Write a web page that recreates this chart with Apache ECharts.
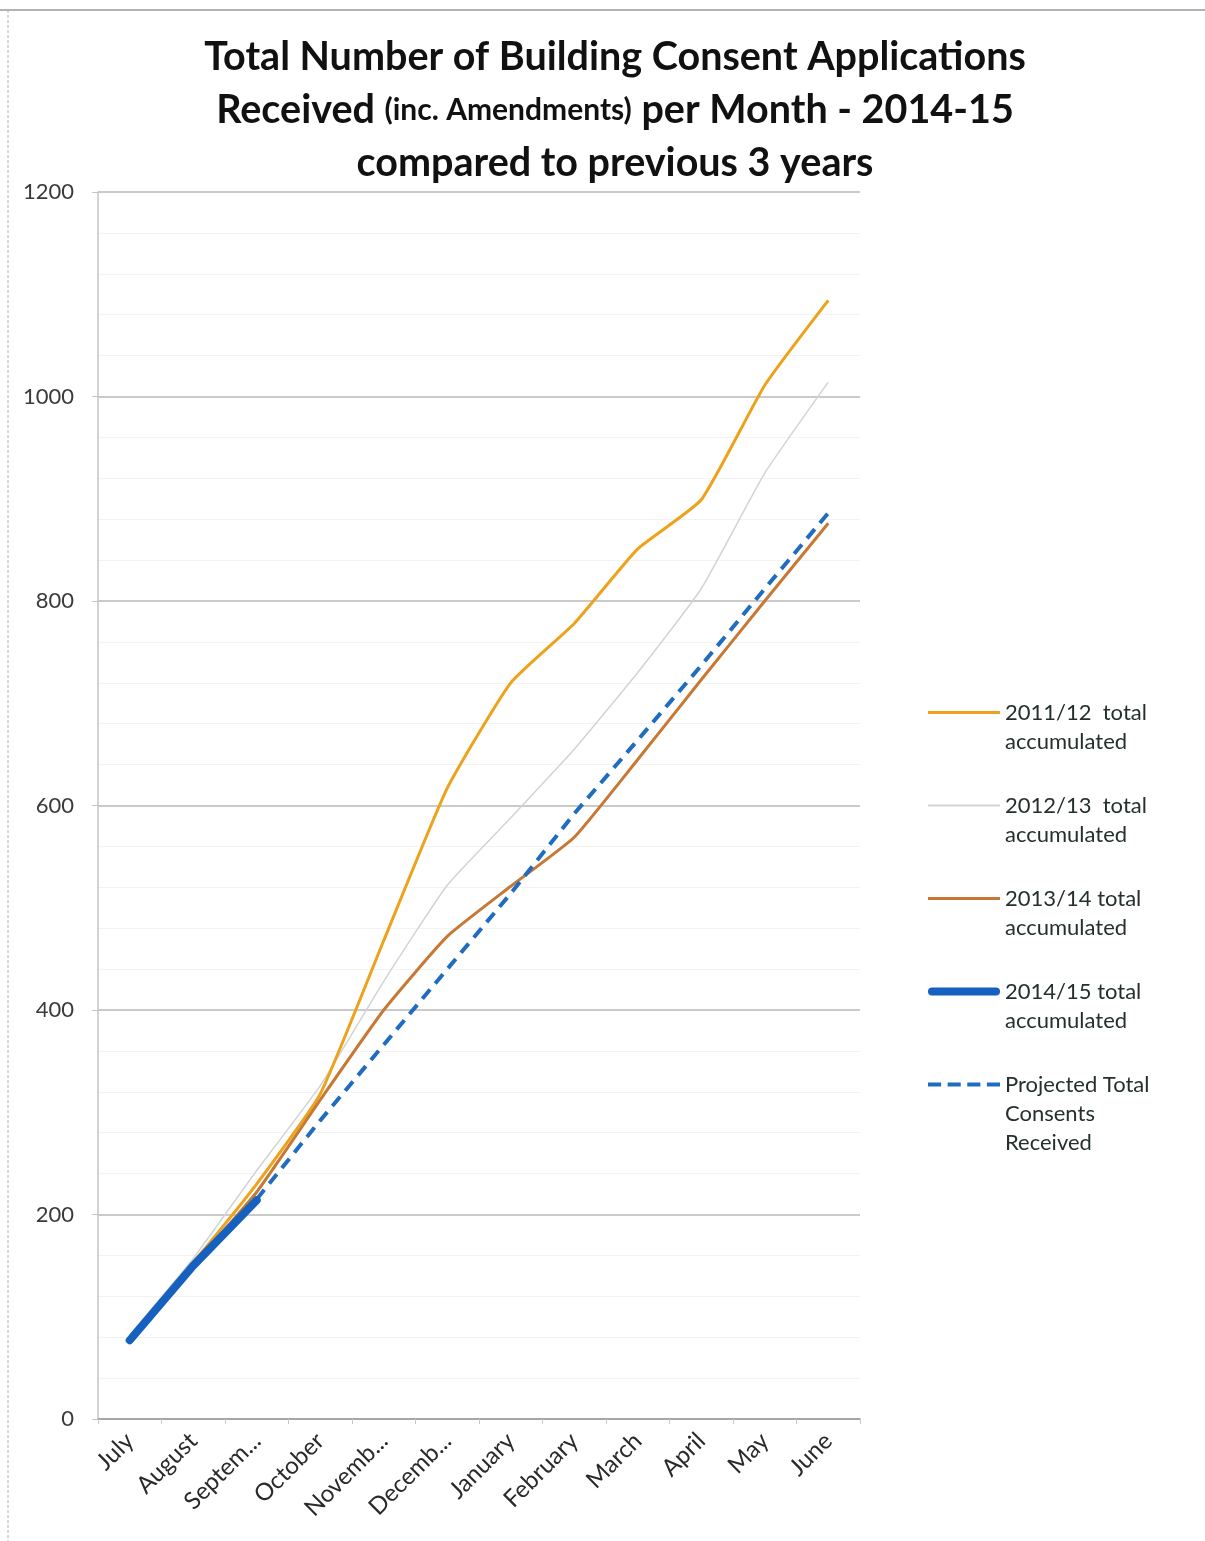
<!DOCTYPE html>
<html>
<head>
<meta charset="utf-8">
<script src="https://cdn.jsdelivr.net/npm/echarts@6/dist/echarts.min.js"></script>
<style>
  html, body { margin: 0; padding: 0; background: #ffffff; }
  #chart { width: 1205px; height: 1541px; }
</style>
</head>
<body>
<div id="chart"></div>
<script>
// Months of the financial year (July to June)
const months = ['July', 'August', 'Septem...', 'October', 'Novemb...', 'Decemb...',
  'January', 'February', 'March', 'April', 'May', 'June'];

// Accumulated building consent applications per month
const total2011 = [80, 153, 230, 318, 468, 617, 720, 778, 851, 899, 1011, 1094];
const total2012 = [82, 157, 243, 326, 428, 522, 588, 655, 730, 812, 925, 1014];
const total2013 = [80, 150, 222, 312, 400, 472, 521, 569, 645, 723, 800, 876];
const total2014 = [77, 150, 214, null, null, null, null, null, null, null, null, null];
const projected = [null, null, 215, 292, 366, 440, 514, 592, 664, 737, 812, 886];

// Value axis ticks
const yMin = 0;
const yMax = 1200;
const yStep = 200;

const seriesNames = [
  '2011/12  total\naccumulated',
  '2012/13  total\naccumulated',
  '2013/14 total\naccumulated',
  '2014/15 total\naccumulated',
  'Projected Total\nConsents\nReceived'
];

const colors = ['#eea21b', '#d3d3d3', '#c67834', '#1660c0', '#1f6cc0'];

// Legend keys drawn as plain strokes (solid, thin, thick, dashed)
const keyPaths = [
  'path://M0,0h72v3h-72z',
  'path://M0,0h72v2h-72z',
  'path://M0,0h72v3h-72z',
  'path://M4,0h64a4,4 0 0 1 0,8h-64a4,4 0 0 1 0,-8z',
  'path://M0,0h13v4h-13z M19.5,0h13v4h-13z M39,0h13v4h-13z M58.5,0h13v4h-13z'
];

// Blank leading lines keep each key level with the first line of its label
const keyOnFirstLine = name => '\n'.repeat(name.split('\n').length - 1) + name;

const FONT = 'Lato';
const chart = echarts.init(document.getElementById('chart'), null, { renderer: 'canvas' });

const legendText = { fontFamily: FONT, fontSize: 22, color: '#25302c', lineHeight: 29 };

chart.setOption({
  backgroundColor: '#ffffff',
  animation: false,
  title: {
    left: 610,
    textAlign: 'center',
    top: 26,
    text: '{a|Total Number of Building Consent Applications}\n{a|Received }{b|(inc. Amendments)}{a| per Month - 2014-15}\n{a|compared to previous 3 years}',
    textStyle: {
      rich: {
        a: { fontFamily: FONT, fontWeight: 'bold', fontSize: 39.5, color: '#111111', lineHeight: 53 },
        b: { fontFamily: FONT, fontWeight: 'bold', fontSize: 30, color: '#111111', lineHeight: 53 }
      }
    }
  },
  legend: [
    {
      orient: 'vertical',
      left: 923,
      top: 664,
      itemWidth: 72,
      itemHeight: 14,
      itemGap: 6,
      formatter: keyOnFirstLine,
      textStyle: legendText,
      data: seriesNames.slice(0, 4).map((n, i) => ({ name: n, icon: keyPaths[i] }))
    },
    {
      orient: 'vertical',
      left: 923,
      top: 1007,
      itemWidth: 72,
      itemHeight: 14,
      formatter: keyOnFirstLine,
      textStyle: legendText,
      data: [{ name: seriesNames[4], icon: keyPaths[4] }]
    }
  ],
  grid: { left: 98, right: 345, top: 192, bottom: 122, containLabel: false },
  xAxis: {
    type: 'category',
    data: months,
    boundaryGap: true,
    axisLine: { lineStyle: { color: '#9a9a9a', width: 1.5 } },
    axisTick: { show: true, alignWithLabel: false, lineStyle: { color: '#c8c8c8' }, length: 5 },
    axisLabel: {
      interval: 0,
      rotate: 45,
      margin: 18,
      fontFamily: FONT,
      fontSize: 24,
      color: '#2a2a2a'
    },
    splitLine: { show: false }
  },
  yAxis: {
    type: 'value',
    min: yMin,
    max: yMax,
    interval: yStep,
    axisLine: { show: true, lineStyle: { color: '#c4c4c4', width: 1.5 } },
    axisTick: { show: true, length: 6, lineStyle: { color: '#c4c4c4' } },
    axisLabel: { fontFamily: FONT, fontSize: 22, color: '#3a3a3a', margin: 24, formatter: v => String(v) },
    splitLine: { show: true, lineStyle: { color: '#b8b8b8', width: 1.5 } },
    minorTick: { show: false, splitNumber: 5 },
    minorSplitLine: { show: true, lineStyle: { color: '#f3f3f3', width: 1 } }
  },
  series: [
    {
      name: seriesNames[0], type: 'line', data: total2011, symbol: 'none', smooth: 0.15,
      lineStyle: { color: colors[0], width: 3 }, itemStyle: { color: colors[0] }, z: 3
    },
    {
      name: seriesNames[1], type: 'line', data: total2012, symbol: 'none', smooth: 0.15,
      lineStyle: { color: colors[1], width: 1.5 }, itemStyle: { color: colors[1] }, z: 2
    },
    {
      name: seriesNames[2], type: 'line', data: total2013, symbol: 'none', smooth: 0.15,
      lineStyle: { color: colors[2], width: 3 }, itemStyle: { color: colors[2] }, z: 4
    },
    {
      name: seriesNames[3], type: 'line', data: total2014, symbol: 'none',
      lineStyle: { color: colors[3], width: 8, cap: 'round' }, itemStyle: { color: colors[3] }, z: 6
    },
    {
      name: seriesNames[4], type: 'line', data: projected, symbol: 'none',
      lineStyle: { color: colors[4], width: 4, type: [12, 8] }, itemStyle: { color: colors[4] }, z: 5
    }
  ],
  graphic: [
    { type: 'line', shape: { x1: 0, y1: 10, x2: 1205, y2: 10 }, style: { stroke: '#9a9a9a', lineWidth: 1.5 } },
    { type: 'line', shape: { x1: 8, y1: 10, x2: 8, y2: 1541 }, style: { stroke: '#b0b0b0', lineWidth: 1, lineDash: [3, 2] } }
  ]
});
</script>
</body>
</html>
